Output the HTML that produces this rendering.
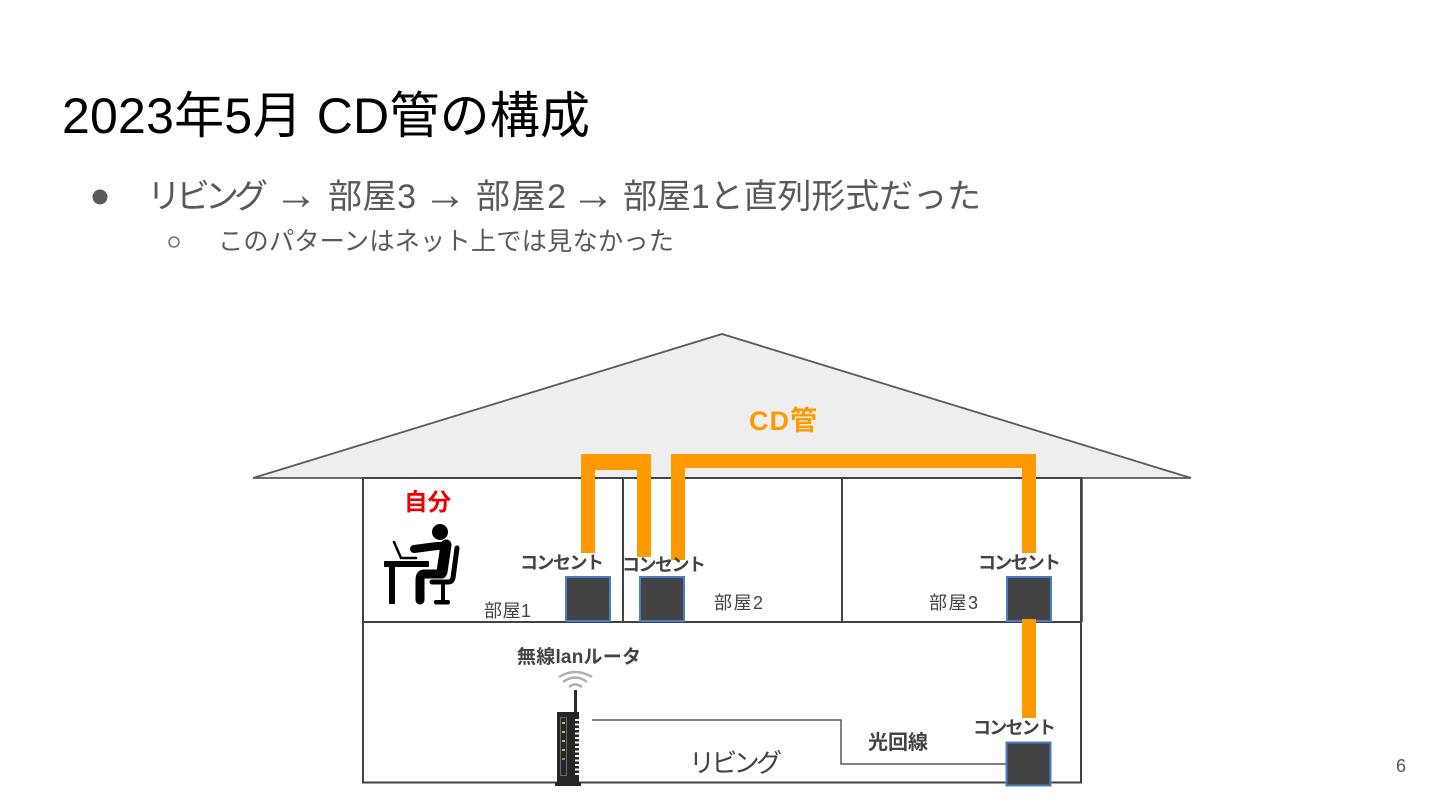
<!DOCTYPE html>
<html><head><meta charset="utf-8"><style>
html,body{margin:0;padding:0;background:#fff;width:1440px;height:810px;overflow:hidden}
svg{display:block}
text{font-family:"Liberation Sans","Noto Sans CJK JP",sans-serif;white-space:pre}
.b{font-weight:700;fill:#434343;font-size:18px}
.r{fill:#434343;font-size:18px}
.h{font-size:34px;fill:#595959}
.a{font-size:44px;fill:#595959;text-anchor:middle}
</style></head><body>
<svg width="1440" height="810" viewBox="0 0 1440 810" xmlns="http://www.w3.org/2000/svg">
<text x="62" y="133" font-size="50" fill="#000" textLength="528">2023年5月 CD管の構成</text>
<circle cx="100" cy="197" r="7.500" fill="#595959"/>
<text class="h" x="147" y="208" textLength="121">リビング</text>
<text class="a" x="296" y="209">→</text>
<text class="h" x="328" y="208" textLength="88">部屋3</text>
<text class="a" x="445" y="209">→</text>
<text class="h" x="476" y="208" textLength="90">部屋2</text>
<text class="a" x="593" y="209">→</text>
<text class="h" x="623" y="208" textLength="358">部屋1と直列形式だった</text>
<circle cx="174" cy="242" r="5" fill="none" stroke="#595959" stroke-width="1.300"/>
<text x="218" y="250" font-size="25.300" fill="#595959" textLength="456">このパターンはネット上では見なかった</text>

<polygon points="722,334 1191,478 253,478" fill="#eeeeee" stroke="#595959" stroke-width="1.800"/>
<rect x="363" y="478" width="718" height="144" fill="#fff" stroke="#434343" stroke-width="2"/>
<rect x="363" y="622" width="718" height="160.500" fill="#fff" stroke="#434343" stroke-width="2"/>
<line x1="1082" y1="478" x2="1082" y2="622" stroke="#434343" stroke-width="1.500"/>
<line x1="623" y1="478" x2="623" y2="622" stroke="#434343" stroke-width="2"/>
<line x1="842" y1="478" x2="842" y2="622" stroke="#434343" stroke-width="2"/>

<g fill="#ff9900">
<rect x="581" y="454" width="14" height="99"/>
<rect x="637" y="454" width="14" height="103"/>
<rect x="581" y="454" width="70" height="16"/>
<rect x="671" y="454" width="14" height="106"/>
<rect x="671" y="454" width="365" height="14"/>
<rect x="1022" y="454" width="14" height="99"/>
</g>

<g fill="#434343" stroke="#4a7ecb" stroke-width="2">
<rect x="566" y="577" width="44" height="44"/>
<rect x="640" y="577" width="44" height="44"/>
<rect x="1007" y="577" width="44" height="44"/>
<rect x="1006.500" y="742.500" width="44" height="43"/>
</g>
<rect x="1022" y="619" width="14" height="99" fill="#ff9900"/>

<polyline points="592,720 841,720 841,764 1006,764" fill="none" stroke="#595959" stroke-width="1.500"/>

<text x="749" y="430" font-size="27" font-weight="700" fill="#ff9900" textLength="68">CD管</text>
<text x="404" y="510" font-size="23.500" font-weight="700" fill="#ee0000">自分</text>
<text class="b" x="520" y="569" textLength="84">コンセント</text>
<text class="b" x="622" y="571" textLength="84">コンセント</text>
<text class="b" x="978" y="569" textLength="83">コンセント</text>
<text class="b" x="973" y="734" textLength="83">コンセント</text>
<text class="b" x="517" y="663" style="font-size:19px" textLength="124">無線lanルータ</text>
<text class="b" x="868" y="749" style="font-size:20px" textLength="60">光回線</text>
<text class="r" x="484" y="617" textLength="47">部屋1</text>
<text class="r" x="714" y="609" textLength="49">部屋2</text>
<text class="r" x="929" y="609" textLength="49">部屋3</text>
<text x="689" y="772" font-size="26" fill="#434343" textLength="93">リビング</text>
<text x="1396" y="772" font-size="18" fill="#595959">6</text>

<!-- person at desk -->
<g fill="none" stroke="#000" stroke-linecap="round" stroke-linejoin="round">
<path d="M414 549 L437 546 Q445 545 445 552 L443 570" stroke-width="8"/>
<path d="M446 545 L442 572" stroke-width="11"/>
<path d="M442 574 L424 574 Q420 574 420 580 L420 600" stroke-width="9"/>
<path d="M457 548 L453 578 Q452 582 448 582 L432 582" stroke-width="5"/>
<path d="M394 542 L401 558 L416 558" stroke-width="2.500"/>
</g>
<g fill="#000">
<circle cx="440" cy="532" r="8"/>
<rect x="384" y="561" width="45" height="6" rx="1"/>
<rect x="389" y="566" width="6" height="38" rx="1"/>
<rect x="441" y="584" width="4" height="17"/>
<rect x="434" y="600" width="16" height="4.500" rx="2"/>
</g>

<!-- router -->
<g>
<g fill="none" stroke="#b0b0b0" stroke-width="2.500">
<path d="M559 677 Q575 667 592 677"/>
<path d="M563 682 Q575 673 587 682"/>
<path d="M569 687 Q575 682 582 687"/>
</g>
<rect x="574" y="690" width="3" height="22" fill="#2b2b2b"/>
<rect x="557" y="712" width="22" height="71" fill="#262626"/>
<rect x="555" y="783" width="26" height="3" fill="#262626"/>
<rect x="560.500" y="717.500" width="6" height="58" fill="none" stroke="#6a6a6a"/>
<g fill="#f0f0f0">
<rect x="575" y="719" width="5" height="2"/><rect x="575" y="723.500" width="5" height="2"/>
<rect x="575" y="728" width="5" height="2"/><rect x="575" y="732.500" width="5" height="2"/>
<rect x="575" y="737" width="5" height="2"/><rect x="575" y="741.500" width="5" height="2"/>
<rect x="575" y="746" width="5" height="2"/><rect x="575" y="750.500" width="5" height="2"/>
<rect x="575" y="755" width="5" height="2"/><rect x="575" y="759.500" width="5" height="2"/>
<rect x="575" y="764" width="5" height="2"/><rect x="575" y="768.500" width="5" height="2"/>
<rect x="575" y="773" width="5" height="2"/>
</g>
<g fill="#b5c95a">
<rect x="562" y="722" width="3" height="2"/><rect x="562" y="731" width="3" height="2"/>
<rect x="562" y="740" width="3" height="2"/><rect x="562" y="749" width="3" height="2"/>
</g>
<rect x="562" y="758" width="3" height="2" fill="#b08a4a"/>
</g>
</svg>
</body></html>
